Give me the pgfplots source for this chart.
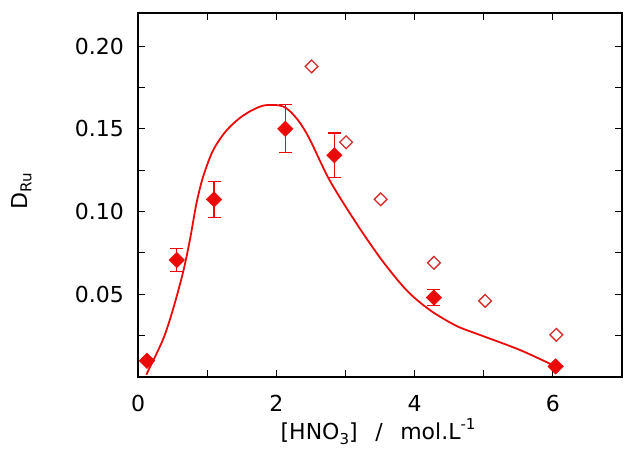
\documentclass[border=0pt]{standalone}
\usepackage{fontspec}
\setmainfont{DejaVu Sans}
\usepackage{pgfplots}
\pgfplotsset{compat=1.18}

\definecolor{ptred}{RGB}{235,10,10}
\definecolor{opred}{RGB}{215,45,45}

\newcommand{\lbl}{\fontsize{22}{26}\selectfont}
\newcommand{\sml}{\fontsize{15}{15}\selectfont}

\begin{document}
\begin{tikzpicture}
\begin{axis}[
  at={(138pt,76pt)}, anchor=south west,
  width=484pt, height=364pt, scale only axis,
  xmin=0, xmax=7, ymin=0, ymax=0.22,
  xtick={0,2,4,6}, xticklabels={0,2,4,6},
  minor xtick={1,3,5},
  ytick={0.05,0.10,0.15,0.20}, yticklabels={0.05,0.10,0.15,0.20},
  minor ytick={0.025,0.075,0.125,0.175},
  tick align=inside,
  major tick length=7pt, minor tick length=7pt,
  tick style={line width=1pt, black},
  axis line style={line width=2.8pt},
  /pgf/number format/assume math mode=true,
  ticklabel style={font=\lbl, inner sep=0pt},
  xticklabel style={anchor=north, yshift=-18pt},
  yticklabel style={anchor=east, xshift=-14pt},
  xlabel={[HNO\raisebox{-0.4ex}{\sml 3}]\hspace{0.8em}/\hspace{0.8em}mol.L\raisebox{0.85ex}{\sml -1}},
  label style={font=\lbl},
  xlabel style={at={(axis description cs:0.496,-0.173)}, anchor=base},
  clip=false,
]
% fitted curve
\addplot[ptred, line width=1.8pt, smooth, tension=0.5] coordinates {
  (0.12,0.0014) (0.36,0.0225) (0.50,0.040) (0.65,0.063) (0.75,0.0827)
  (0.845,0.1048) (0.94,0.1208) (1.085,0.1369) (1.28,0.149) (1.52,0.158)
  (1.81,0.164) (2.10,0.1635) (2.30,0.156) (2.48,0.144) (2.77,0.119)
  (3.16,0.0928) (3.52,0.071) (3.88,0.0526) (4.22,0.0405)
  (4.60,0.031) (4.94,0.0255) (5.52,0.0164) (6.04,0.0064)
};
% open diamonds
\addplot[only marks, mark=square, mark size=4.5pt,
  mark options={rotate=45, opred, line width=1.3pt}] coordinates {
  (2.51,0.1877) (3.01,0.1419) (3.51,0.1074) (4.28,0.069) (5.02,0.046) (6.05,0.0255)
};
% filled diamonds with error bars
\addplot[only marks, mark=square*, mark size=5.5pt,
  mark options={rotate=45, ptred, fill=ptred},
  error bars/.cd, y dir=both, y explicit,
  error bar style={ptred, line width=1.3pt},
  error mark options={rotate=90, mark size=6.5pt, ptred, line width=1.3pt}
] coordinates {
  (0.13,0.0098) +- (0,0)
  (0.56,0.0707) +- (0,0.007)
  (1.10,0.1073) +- (0,0.0108)
  (2.13,0.150) +- (0,0.0145)
  (2.84,0.134) +- (0,0.0135)
  (4.28,0.048) +- (0,0.0048)
  (6.04,0.0064) +- (0,0)
};
\node[rotate=89.5, anchor=base, font=\lbl] at (rel axis cs:-0.229,0.51)
  {D\raisebox{-0.35ex}{\sml Ru}};
\end{axis}
\pgfresetboundingbox
\useasboundingbox (0,0) rectangle (624pt,453pt);
\end{tikzpicture}
\end{document}
